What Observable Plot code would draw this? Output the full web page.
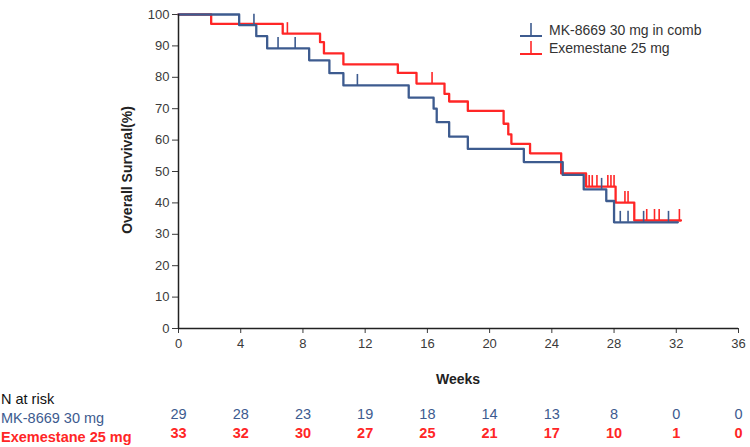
<!DOCTYPE html>
<html>
<head>
<meta charset="utf-8">
<script src="https://cdn.jsdelivr.net/npm/d3@7"></script>
<script src="https://cdn.jsdelivr.net/npm/@observablehq/plot@0.6"></script>
<style>
  html, body { margin: 0; padding: 0; background: #fff; }
  body { font-family: "Liberation Sans", Arial, sans-serif; }
  #wrap { position: relative; width: 750px; height: 447px; overflow: hidden; }
  #wrap > svg { position: absolute; left: 0; top: 0; }
  .lbl { position: absolute; white-space: nowrap; line-height: 1; }
  .ylab { font-weight: bold; font-size: 14px; color: #222; transform: translate(-50%, -50%) rotate(-90deg); }
  .xlab { font-weight: bold; font-size: 14px; color: #222; transform: translate(-50%, -50%); }
  .risk { font-size: 14.5px; transform: translateY(-50%); }
  .legend { position: absolute; left: 519px; top: 21px; font-size: 14px; color: #333; }
  .legend .row { display: flex; align-items: center; height: 18px; }
  #wrap .legend svg { position: static; margin-right: 6px; display: block; }
</style>
</head>
<body>
<div id="wrap"></div>
<script>
// ---- data ----
const seriesNames = ["MK-8669 30 mg in comb", "Exemestane 25 mg"];
const riskRowLabels = ["MK-8669 30 mg", "Exemestane 25 mg"];
const seriesColors = ["#3d5b8f", "#ff2626"];

// MK-8669: step times (weeks) and survival (%)
const mkTimes = [0, 3.9, 5.0, 5.7, 8.4, 9.7, 10.6, 14.8, 16.4, 16.6, 17.4, 18.6, 22.2, 24.7, 26.05, 27.5, 28.0];
const mkSurv  = [100, 96.6, 93.1, 89.2, 85.4, 81.3, 77.4, 73.5, 70.0, 65.7, 61.1, 57.2, 53.0, 48.9, 44.3, 40.6, 33.8];
const mkEnd = 32.1;
const mkCensor = [4.85, 6.4, 7.5, 11.5, 27.2, 28.4, 28.9, 29.9, 31.5];

// Exemestane
const exTimes = [0, 2.1, 6.7, 9.1, 9.35, 10.6, 14.1, 15.3, 17.1, 17.4, 18.6, 20.9, 21.2, 21.4, 22.6, 24.6, 26.2, 28.1, 29.3];
const exSurv  = [100, 97.0, 93.9, 91.2, 87.6, 84.1, 81.4, 78.0, 74.7, 72.3, 69.3, 65.2, 61.8, 58.8, 55.8, 49.4, 45.2, 40.1, 34.4];
const exEnd = 32.3;
const exCensor = [7.0, 16.3, 26.4, 26.6, 26.9, 27.6, 27.8, 28.0, 28.7, 28.9, 30.1, 30.6, 30.9, 32.2];

// Risk table
const riskWeeks = [0, 4, 8, 12, 16, 20, 24, 28, 32, 36];
const mkRisk = [29, 28, 23, 19, 18, 14, 13, 8, 0, 0];
const exRisk = [33, 32, 30, 27, 25, 21, 17, 10, 1, 0];

const xTicks = [0, 4, 8, 12, 16, 20, 24, 28, 32, 36];
const yTicks = [0, 10, 20, 30, 40, 50, 60, 70, 80, 90, 100];

// ---- build tables ----
function stepData(times, surv, end) {
  const pts = times.map((t, i) => ({t, s: surv[i]}));
  pts.push({t: end, s: surv[surv.length - 1]});
  return pts;
}
function survAt(times, surv, t) {
  let s = surv[0];
  for (let i = 0; i < times.length; i++) if (times[i] <= t) s = surv[i];
  return s;
}
const mkLine = stepData(mkTimes, mkSurv, mkEnd);
const exLine = stepData(exTimes, exSurv, exEnd);
const mkCens = mkCensor.map(t => ({t, s: survAt(mkTimes, mkSurv, t)}));
const exCens = exCensor.map(t => ({t, s: survAt(exTimes, exSurv, t)}));
const mkRiskData = riskWeeks.map((w, i) => ({w, n: mkRisk[i]}));
const exRiskData = riskWeeks.map((w, i) => ({w, n: exRisk[i]}));

const plot = Plot.plot({
  width: 750,
  height: 447,
  marginLeft: 178,
  marginRight: 12,
  marginTop: 14,
  marginBottom: 119,
  style: {fontFamily: "Liberation Sans, Arial, sans-serif", fontSize: "13px", color: "#3a3a3a", background: "transparent", overflow: "visible"},
  x: {domain: [0, 36], ticks: xTicks, tickSize: 5, tickPadding: 5, label: null, tickFormat: d => String(d)},
  y: {domain: [0, 100], ticks: yTicks, tickSize: 6, tickPadding: 3, label: null, tickFormat: d => String(d)},
  marks: [
    Plot.line(exLine, {x: "t", y: "s", curve: "step-after", stroke: seriesColors[1], strokeWidth: 2.3}),
    Plot.ruleX(exCens, {x: "t", y1: "s", y2: "s", insetTop: -11, stroke: seriesColors[1], strokeWidth: 1.6}),
    Plot.line(mkLine, {x: "t", y: "s", curve: "step-after", stroke: seriesColors[0], strokeWidth: 2.3}),
    Plot.ruleX(mkCens, {x: "t", y1: "s", y2: "s", insetTop: -11, stroke: seriesColors[0], strokeWidth: 1.6}),
    Plot.ruleX([0], {stroke: "#222", strokeWidth: 1.5}),
    Plot.ruleY([0], {stroke: "#222", strokeWidth: 1.5}),
    Plot.text(mkRiskData, {x: "w", text: d => String(d.n), frameAnchor: "bottom", dy: 90, fill: seriesColors[0], fontSize: 14.5}),
    Plot.text(exRiskData, {x: "w", text: d => String(d.n), frameAnchor: "bottom", dy: 109, fill: seriesColors[1], fontSize: 14.5, fontWeight: "bold"})
  ]
});

const wrap = document.getElementById("wrap");
wrap.appendChild(plot);

function addLabel(text, cls, left, top, color, weight) {
  const d = document.createElement("div");
  d.className = "lbl " + cls;
  d.textContent = text;
  d.style.left = left + "px";
  d.style.top = top + "px";
  if (color) d.style.color = color;
  if (weight) d.style.fontWeight = weight;
  wrap.appendChild(d);
}
addLabel("Overall Survival(%)", "ylab", 127, 170);
addLabel("Weeks", "xlab", 458, 379);
addLabel("N at risk", "risk", 1, 399, "#111", "normal");
addLabel(riskRowLabels[0], "risk", 1, 418, seriesColors[0], "normal");
addLabel(riskRowLabels[1], "risk", 1, 437, seriesColors[1], "bold");

// legend
const leg = document.createElement("div");
leg.className = "legend";
seriesNames.forEach((name, i) => {
  const row = document.createElement("div");
  row.className = "row";
  row.innerHTML = `<svg width="24" height="16"><line x1="1" x2="23" y1="14" y2="14" stroke="${seriesColors[i]}" stroke-width="2"/><line x1="12" x2="12" y1="1" y2="14" stroke="${seriesColors[i]}" stroke-width="1.6"/></svg><span>${name}</span>`;
  leg.appendChild(row);
});
wrap.appendChild(leg);
</script>
</body>
</html>
